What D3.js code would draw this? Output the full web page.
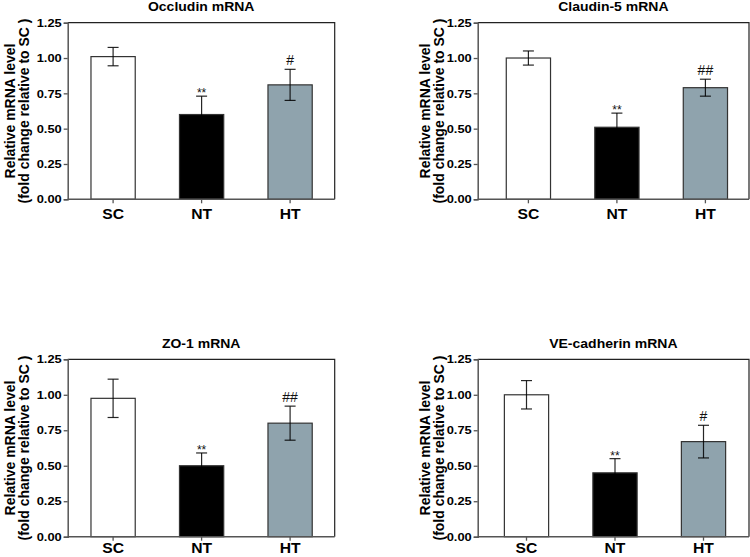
<!DOCTYPE html>
<html>
<head>
<meta charset="utf-8">
<script src="https://cdn.jsdelivr.net/npm/d3@7"></script>
<style>
  body { margin: 0; background: #fff; }
  svg text { font-family: "Liberation Sans", Arial, sans-serif; }
</style>
</head>
<body>
<div id="chart"></div>
<script>
const groups = ["SC", "NT", "HT"];
const yTicks = [0, 0.25, 0.5, 0.75, 1.0, 1.25];

const occludinMean = [1.01, 0.60, 0.81];
const occludinErr = [0.065, 0.13, 0.11];
const occludinMarks = ["", "**", "#"];

const claudinMean = [1.00, 0.51, 0.79];
const claudinErr = [0.05, 0.10, 0.06];
const claudinMarks = ["", "**", "##"];

const zo1Mean = [0.975, 0.50, 0.80];
const zo1Err = [0.135, 0.09, 0.12];
const zo1Marks = ["", "**", "##"];

const veMean = [1.00, 0.45, 0.67];
const veErr = [0.10, 0.10, 0.115];
const veMarks = ["", "**", "#"];

const fills = ["#ffffff", "#000000", "#8fa3ad"];
const sx = 1.12; // the figure's lettering is a bit wide

const panels = [
  { title: "Occludin mRNA", mean: occludinMean, err: occludinErr, marks: occludinMarks,
    left: 67.7, right: 334.7, top: 22.7, bottom: 199.3, off: 1.15, lab: 57.7, xl: 20 },
  { title: "Claudin-5 mRNA", mean: claudinMean, err: claudinErr, marks: claudinMarks,
    left: 477.7, right: 749, top: 22.7, bottom: 199.3, off: 6.45, lab: 52.7, xl: 20 },
  { title: "ZO-1 mRNA", mean: zo1Mean, err: zo1Err, marks: zo1Marks,
    left: 67.7, right: 334.7, top: 359.3, bottom: 536.7, off: 1.15, lab: 57.7, xl: 16.5 },
  { title: "VE-cadherin mRNA", mean: veMean, err: veErr, marks: veMarks,
    left: 477.7, right: 749, top: 359.3, bottom: 536.7, off: 4.55, lab: 52.7, xl: 16.5 }
];

const svg = d3.select("#chart").append("svg")
  .attr("width", 750)
  .attr("height", 557);

panels.forEach(p => {
  const data = groups.map((g, i) => ({ g: g, v: p.mean[i], e: p.err[i], m: p.marks[i], fill: fills[i] }));

  const y = d3.scaleLinear().domain([0, 1.25]).range([p.bottom, p.top]);
  const x = d3.scaleBand()
    .domain(groups)
    .range([p.left + p.off, p.left + p.off + 265.5])
    .paddingInner(0.5)
    .paddingOuter(0.25);

  const g = svg.append("g");

  // top and right edges of the box
  g.append("path")
    .attr("d", `M${p.left},${p.top}H${p.right}V${p.bottom}`)
    .attr("fill", "none")
    .attr("stroke", "#222")
    .attr("stroke-width", 1.2);

  // bars
  g.selectAll(".bar")
    .data(data)
    .enter().append("rect")
    .attr("class", "bar")
    .attr("x", d => x(d.g))
    .attr("y", d => y(d.v))
    .attr("width", x.bandwidth())
    .attr("height", d => y(0) - y(d.v))
    .attr("fill", d => d.fill)
    .attr("stroke", "#333")
    .attr("stroke-width", 1.2);

  // error bars
  const eb = g.selectAll(".err")
    .data(data)
    .enter().append("g")
    .attr("class", "err")
    .attr("stroke", "#000")
    .attr("stroke-opacity", 0.85)
    .attr("stroke-width", 1.2);
  eb.append("line")
    .attr("x1", d => x(d.g) + x.bandwidth() / 2)
    .attr("x2", d => x(d.g) + x.bandwidth() / 2)
    .attr("y1", d => y(d.v - d.e))
    .attr("y2", d => y(d.v + d.e));
  eb.append("line")
    .attr("x1", d => x(d.g) + x.bandwidth() / 2 - 5.5)
    .attr("x2", d => x(d.g) + x.bandwidth() / 2 + 5.5)
    .attr("y1", d => y(d.v + d.e))
    .attr("y2", d => y(d.v + d.e));
  eb.append("line")
    .attr("x1", d => x(d.g) + x.bandwidth() / 2 - 5.5)
    .attr("x2", d => x(d.g) + x.bandwidth() / 2 + 5.5)
    .attr("y1", d => y(d.v - d.e))
    .attr("y2", d => y(d.v - d.e));

  // significance marks
  g.selectAll(".mark")
    .data(data.filter(d => d.m))
    .enter().append("text")
    .attr("class", "mark")
    .attr("x", d => x(d.g) + x.bandwidth() / 2)
    .attr("y", d => y(d.v + d.e) - (d.m === "**" ? -1 : 4.5))
    .attr("text-anchor", "middle")
    .attr("font-size", d => d.m === "**" ? "12px" : "14px")
    .attr("fill", "#111")
    .text(d => d.m);

  // y axis
  const yAxis = g.append("g")
    .attr("transform", `translate(${p.left},0)`)
    .call(d3.axisLeft(y).tickValues(yTicks).tickFormat(d3.format(".2f")).tickSize(4).tickPadding(2));
  yAxis.select(".domain").attr("stroke", "#555").attr("stroke-width", 1.5);
  yAxis.selectAll(".tick line").attr("stroke", "#555").attr("stroke-width", 1.3);
  yAxis.selectAll(".tick text")
    .attr("font-size", "11.5px")
    .attr("font-weight", "bold")
    .attr("font-family", "Liberation Sans, Arial, sans-serif")
    .attr("fill", "#000")
    .attr("x", -6 / sx)
    .attr("transform", `scale(${sx},1)`);

  // x axis
  const xAxis = g.append("g")
    .attr("transform", `translate(0,${p.bottom})`)
    .call(d3.axisBottom(x).tickSize(4).tickSizeOuter(0).tickPadding(6));
  xAxis.select(".domain")
    .attr("d", `M${p.left},0H${p.right}`)
    .attr("stroke", "#555")
    .attr("stroke-width", 1.5);
  xAxis.selectAll(".tick line").attr("stroke", "#555").attr("stroke-width", 1.3);
  xAxis.selectAll(".tick text")
    .attr("font-size", "14px")
    .attr("font-weight", "bold")
    .attr("font-family", "Liberation Sans, Arial, sans-serif")
    .attr("fill", "#000")
    .attr("y", 0)
    .attr("dy", null)
    .attr("transform", `translate(0,${p.xl}) scale(${sx},1)`);

  // title
  svg.append("text")
    .attr("transform", `translate(${(p.left + p.right) / 2},${p.top - 11.5}) scale(${sx},1)`)
    .attr("text-anchor", "middle")
    .attr("font-size", "12.5px")
    .attr("font-weight", "bold")
    .text(p.title);

  // y label, two lines
  const cy = (p.top + p.bottom) / 2;
  const ylab = ["Relative mRNA level", "(fold change relative to SC )"];
  ylab.forEach((t, i) => {
    svg.append("text")
      .attr("transform", `translate(${p.left - p.lab + i * 14},${cy}) scale(1.08,1) rotate(-90)`)
      .attr("text-anchor", "middle")
      .attr("dy", "0.36em")
      .attr("font-size", "14px")
      .attr("font-weight", "bold")
      .text(t);
  });
});
</script>
</body>
</html>
